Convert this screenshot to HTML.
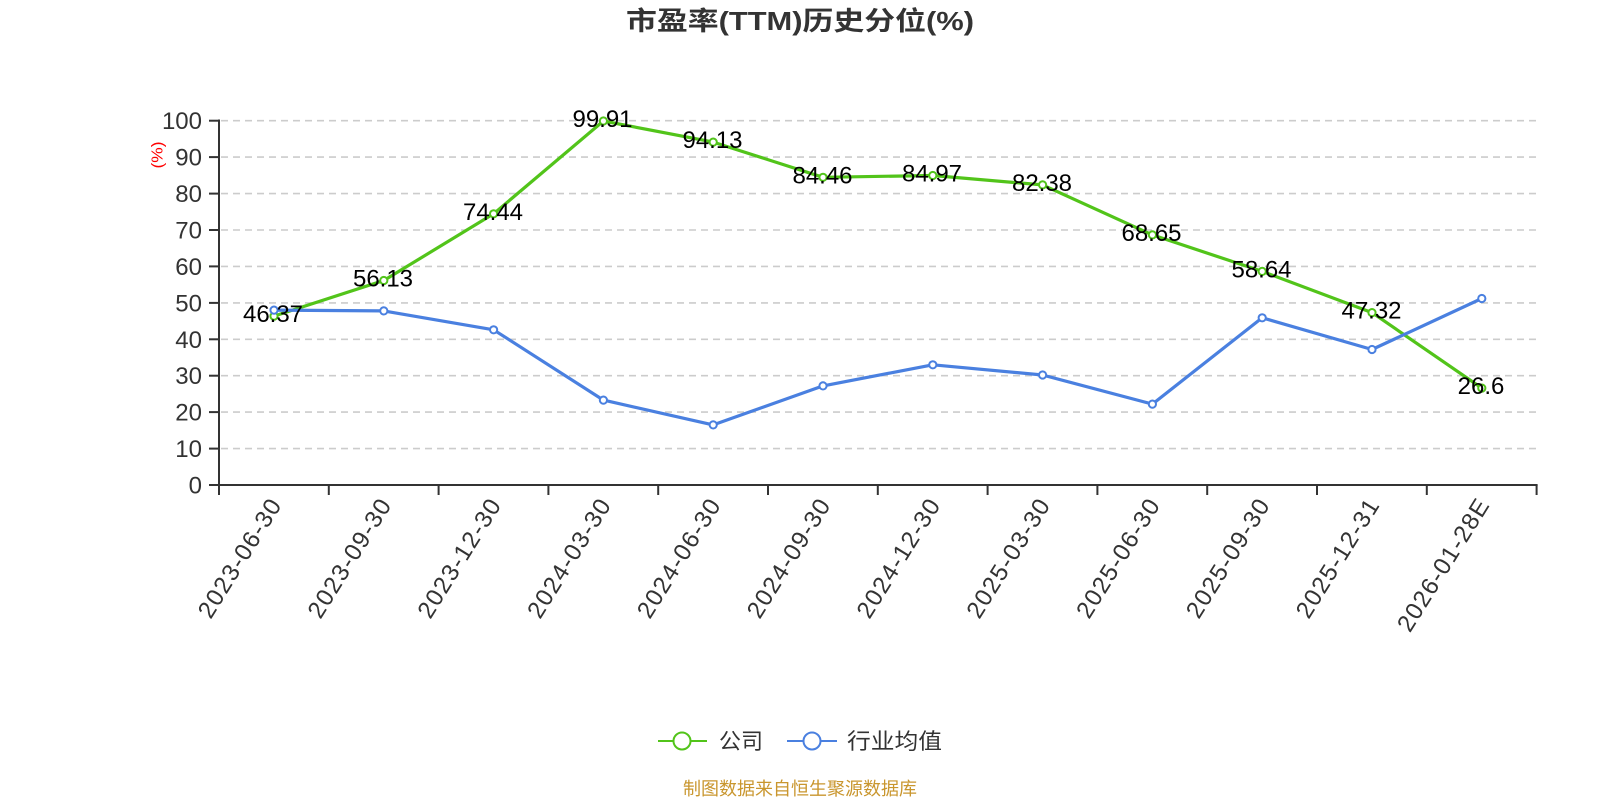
<!DOCTYPE html>
<html><head><meta charset="utf-8"><style>
html,body{margin:0;padding:0;background:#fff;}
svg{display:block;}
text{font-family:"Liberation Sans","Noto Sans CJK SC",sans-serif;}
</style></head><body>
<svg width="1600" height="800" viewBox="0 0 1600 800" xmlns="http://www.w3.org/2000/svg">
<rect width="1600" height="800" fill="#fff"/>
<text x="800" y="30" text-anchor="middle" font-size="26" font-weight="bold" fill="#333" textLength="348" lengthAdjust="spacingAndGlyphs">市盈率(TTM)历史分位(%)</text>

<g stroke="#cccccc" stroke-width="1.6" stroke-dasharray="7,5">
<line x1="221" y1="448.6" x2="1537" y2="448.6"/>
<line x1="221" y1="412.1" x2="1537" y2="412.1"/>
<line x1="221" y1="375.7" x2="1537" y2="375.7"/>
<line x1="221" y1="339.3" x2="1537" y2="339.3"/>
<line x1="221" y1="302.9" x2="1537" y2="302.9"/>
<line x1="221" y1="266.4" x2="1537" y2="266.4"/>
<line x1="221" y1="230.0" x2="1537" y2="230.0"/>
<line x1="221" y1="193.6" x2="1537" y2="193.6"/>
<line x1="221" y1="157.1" x2="1537" y2="157.1"/>
<line x1="221" y1="120.7" x2="1537" y2="120.7"/>
</g>

<g stroke="#333" stroke-width="2">
<line x1="219" y1="119.5" x2="219" y2="485"/>
<line x1="218" y1="485" x2="1537.6" y2="485"/>
<line x1="209" y1="485" x2="219" y2="485"/>
<line x1="209" y1="448.6" x2="219" y2="448.6"/>
<line x1="209" y1="412.1" x2="219" y2="412.1"/>
<line x1="209" y1="375.7" x2="219" y2="375.7"/>
<line x1="209" y1="339.3" x2="219" y2="339.3"/>
<line x1="209" y1="302.9" x2="219" y2="302.9"/>
<line x1="209" y1="266.4" x2="219" y2="266.4"/>
<line x1="209" y1="230.0" x2="219" y2="230.0"/>
<line x1="209" y1="193.6" x2="219" y2="193.6"/>
<line x1="209" y1="157.1" x2="219" y2="157.1"/>
<line x1="209" y1="120.7" x2="219" y2="120.7"/>
<line x1="219" y1="485" x2="219" y2="495"/>
<line x1="328.8" y1="485" x2="328.8" y2="495"/>
<line x1="438.6" y1="485" x2="438.6" y2="495"/>
<line x1="548.4" y1="485" x2="548.4" y2="495"/>
<line x1="658.2" y1="485" x2="658.2" y2="495"/>
<line x1="768" y1="485" x2="768" y2="495"/>
<line x1="877.8" y1="485" x2="877.8" y2="495"/>
<line x1="987.6" y1="485" x2="987.6" y2="495"/>
<line x1="1097.4" y1="485" x2="1097.4" y2="495"/>
<line x1="1207.2" y1="485" x2="1207.2" y2="495"/>
<line x1="1317" y1="485" x2="1317" y2="495"/>
<line x1="1426.8" y1="485" x2="1426.8" y2="495"/>
<line x1="1536.6" y1="485" x2="1536.6" y2="495"/>
</g>

<g font-size="24" fill="#333" text-anchor="end">
<text x="202" y="493.5">0</text>
<text x="202" y="457.1">10</text>
<text x="202" y="420.6">20</text>
<text x="202" y="384.2">30</text>
<text x="202" y="347.8">40</text>
<text x="202" y="311.4">50</text>
<text x="202" y="274.9">60</text>
<text x="202" y="238.5">70</text>
<text x="202" y="202.1">80</text>
<text x="202" y="165.6">90</text>
<text x="202" y="129.2">100</text>
</g>

<text transform="translate(157,155) rotate(-90)" text-anchor="middle" dy="0.35em" font-size="16" fill="#ff0000" textLength="27" lengthAdjust="spacingAndGlyphs">(%)</text>

<g font-size="24" fill="#333" text-anchor="end">
<text transform="translate(275,501) rotate(-58)" dy="0.35em" textLength="135" lengthAdjust="spacing">2023-06-30</text>
<text transform="translate(384.8,501) rotate(-58)" dy="0.35em" textLength="135" lengthAdjust="spacing">2023-09-30</text>
<text transform="translate(494.6,501) rotate(-58)" dy="0.35em" textLength="135" lengthAdjust="spacing">2023-12-30</text>
<text transform="translate(604.4,501) rotate(-58)" dy="0.35em" textLength="135" lengthAdjust="spacing">2024-03-30</text>
<text transform="translate(714.2,501) rotate(-58)" dy="0.35em" textLength="135" lengthAdjust="spacing">2024-06-30</text>
<text transform="translate(824,501) rotate(-58)" dy="0.35em" textLength="135" lengthAdjust="spacing">2024-09-30</text>
<text transform="translate(933.8,501) rotate(-58)" dy="0.35em" textLength="135" lengthAdjust="spacing">2024-12-30</text>
<text transform="translate(1043.6,501) rotate(-58)" dy="0.35em" textLength="135" lengthAdjust="spacing">2025-03-30</text>
<text transform="translate(1153.4,501) rotate(-58)" dy="0.35em" textLength="135" lengthAdjust="spacing">2025-06-30</text>
<text transform="translate(1263.2,501) rotate(-58)" dy="0.35em" textLength="135" lengthAdjust="spacing">2025-09-30</text>
<text transform="translate(1373,501) rotate(-58)" dy="0.35em" textLength="135" lengthAdjust="spacing">2025-12-31</text>
<text transform="translate(1482.8,501) rotate(-58)" dy="0.35em" textLength="151" lengthAdjust="spacing">2026-01-28E</text>
</g>

<polyline fill="none" stroke="#52c41a" stroke-width="3.2" stroke-linejoin="round" points="274,316.1 383.8,280.5 493.6,213.8 603.4,121.0 713.2,142.1 823,177.3 932.8,175.5 1042.6,184.9 1152.4,234.9 1262.2,271.4 1372,312.6 1481.8,388.1"/>
<g fill="#fff" stroke="#52c41a" stroke-width="2">
<circle cx="274" cy="316.1" r="3.6"/><circle cx="383.8" cy="280.5" r="3.6"/><circle cx="493.6" cy="213.8" r="3.6"/><circle cx="603.4" cy="121.0" r="3.6"/><circle cx="713.2" cy="142.1" r="3.6"/><circle cx="823" cy="177.3" r="3.6"/><circle cx="932.8" cy="175.5" r="3.6"/><circle cx="1042.6" cy="184.9" r="3.6"/><circle cx="1152.4" cy="234.9" r="3.6"/><circle cx="1262.2" cy="271.4" r="3.6"/><circle cx="1372" cy="312.6" r="3.6"/><circle cx="1481.8" cy="388.1" r="3.6"/>
</g>

<polyline fill="none" stroke="#4a80e0" stroke-width="3.2" stroke-linejoin="round" points="274,310.1 383.8,310.9 493.6,329.8 603.4,400.1 713.2,424.9 823,385.9 932.8,364.8 1042.6,375.0 1152.4,404.1 1262.2,317.8 1372,349.5 1481.8,298.5"/>
<g fill="#fff" stroke="#4a80e0" stroke-width="2">
<circle cx="274" cy="310.1" r="3.6"/><circle cx="383.8" cy="310.9" r="3.6"/><circle cx="493.6" cy="329.8" r="3.6"/><circle cx="603.4" cy="400.1" r="3.6"/><circle cx="713.2" cy="424.9" r="3.6"/><circle cx="823" cy="385.9" r="3.6"/><circle cx="932.8" cy="364.8" r="3.6"/><circle cx="1042.6" cy="375.0" r="3.6"/><circle cx="1152.4" cy="404.1" r="3.6"/><circle cx="1262.2" cy="317.8" r="3.6"/><circle cx="1372" cy="349.5" r="3.6"/><circle cx="1481.8" cy="298.5" r="3.6"/>
</g>

<g font-size="24" fill="#000" text-anchor="middle">
<text x="273" y="322">46.37</text>
<text x="383" y="286.5">56.13</text>
<text x="493" y="219.8">74.44</text>
<text x="602.5" y="127">99.91</text>
<text x="712.5" y="148">94.13</text>
<text x="822.5" y="183.3">84.46</text>
<text x="932" y="181.5">84.97</text>
<text x="1042" y="190.9">82.38</text>
<text x="1151.5" y="240.9">68.65</text>
<text x="1261.5" y="277.4">58.64</text>
<text x="1371.5" y="318.6">47.32</text>
<text x="1481" y="394.1">26.6</text>
</g>

<line x1="658" y1="741" x2="707" y2="741" stroke="#52c41a" stroke-width="2"/>
<circle cx="682" cy="741" r="8.5" fill="#fff" stroke="#52c41a" stroke-width="2"/>
<text x="719" y="749" font-size="22" fill="#333" textLength="44" lengthAdjust="spacingAndGlyphs">公司</text>
<line x1="787" y1="741" x2="837" y2="741" stroke="#4a80e0" stroke-width="2"/>
<circle cx="812" cy="741" r="8.5" fill="#fff" stroke="#4a80e0" stroke-width="2"/>
<text x="847" y="749" font-size="22" fill="#333" textLength="95" lengthAdjust="spacingAndGlyphs">行业均值</text>

<text x="800" y="795" text-anchor="middle" font-size="18" fill="#c9962e" textLength="234" lengthAdjust="spacingAndGlyphs">制图数据来自恒生聚源数据库</text>
</svg>
</body></html>
